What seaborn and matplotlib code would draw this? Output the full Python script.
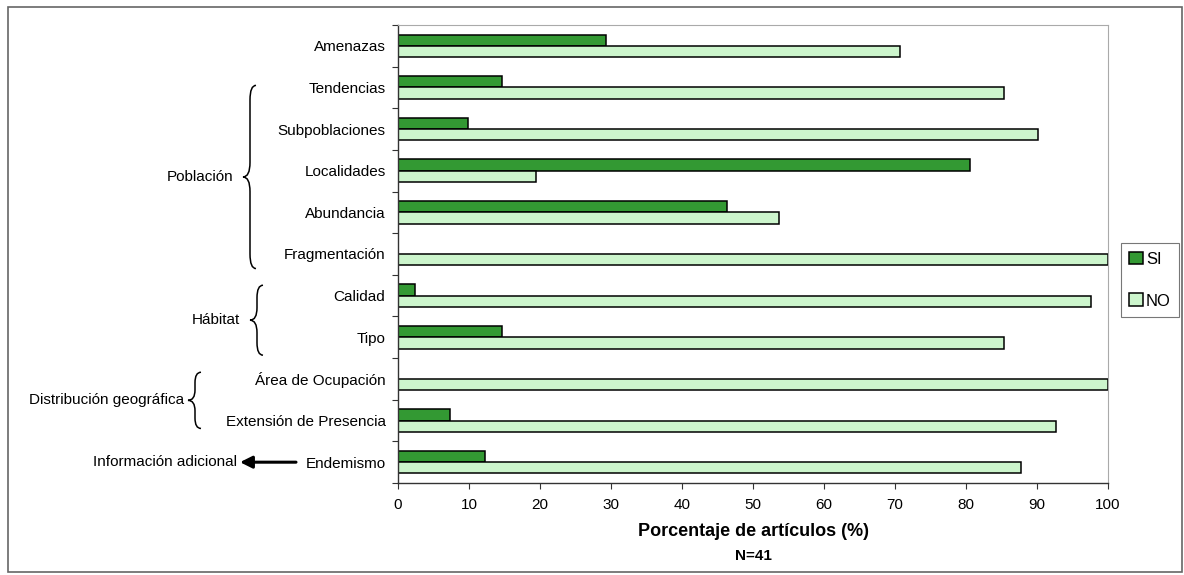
import numpy as np
import pandas as pd
import matplotlib
matplotlib.use("Agg")
import matplotlib.pyplot as plt
from matplotlib.path import Path
from matplotlib.patches import PathPatch, Rectangle
from matplotlib.transforms import blended_transform_factory
import seaborn as sns

# Criteria reviewed in the articles (top to bottom)
categorias = ["Amenazas", "Tendencias", "Subpoblaciones", "Localidades",
              "Abundancia", "Fragmentación", "Calidad", "Tipo",
              "Área de Ocupación", "Extensión de Presencia", "Endemismo"]
# Percent of articles (N=41) that report / do not report each criterion
si = [29.3, 14.6, 9.8, 80.5, 46.3, 0.0, 2.4, 14.6, 0.0, 7.3, 12.2]
no = [70.7, 85.4, 90.2, 19.5, 53.7, 100.0, 97.6, 85.4, 100.0, 92.7, 87.8]
respuestas = ["SI", "NO"]
xticks = list(range(0, 101, 10))

df = pd.DataFrame({
    "categoria": categorias * 2,
    "respuesta": ["SI"] * len(categorias) + ["NO"] * len(categorias),
    "porcentaje": si + no,
})

sns.set_theme(style="white")
plt.rcParams["font.family"] = ["Liberation Sans", "DejaVu Sans"]
for key in ("text.color", "axes.labelcolor", "xtick.color", "ytick.color"):
    plt.rcParams[key] = "black"

fig = plt.figure(figsize=(11.84, 5.75), dpi=100)
ax = fig.add_axes([398 / 1184, 1 - 483 / 575, 710 / 1184, 458 / 575])

sns.barplot(data=df, y="categoria", x="porcentaje", hue="respuesta",
            hue_order=respuestas, order=categorias,
            palette=["#339933", "#CCF5CC"], orient="h", width=0.54,
            edgecolor="black", linewidth=1.1, saturation=1, ax=ax)

ax.set_xlim(0, 100)
ax.set_ylim(len(categorias) - 0.5, -0.5)
ax.set_xticks(xticks)
ax.set_xlabel("")
ax.set_ylabel("")

# Axes styling
for side in ("left", "bottom"):
    ax.spines[side].set_color("#333333")
    ax.spines[side].set_linewidth(1.0)
for side in ("top", "right"):
    ax.spines[side].set_color("#AAAAAA")
    ax.spines[side].set_linewidth(0.8)

ax.tick_params(axis="x", which="major", bottom=True, length=4, width=0.8,
               color="#333333", labelsize=11, pad=7)
ax.tick_params(axis="y", which="major", left=False, length=0,
               labelsize=11, pad=9)
ax.set_yticks(np.arange(-0.5, len(categorias), 1), minor=True)
ax.tick_params(axis="y", which="minor", left=True, length=4, width=0.8,
               color="#333333")

# Legend at the right
handles, labels = ax.get_legend_handles_labels()
ax.get_legend().remove()
leg = fig.legend(handles, labels, loc="center", bbox_to_anchor=(1150 / 1184, 1 - 280 / 575),
                 fontsize=12, frameon=True, fancybox=False, edgecolor="#555555",
                 labelspacing=1.6, handlelength=0.8, handleheight=0.8,
                 handletextpad=0.2, borderpad=0.5, borderaxespad=0)
leg.get_frame().set_linewidth(0.8)

# X-axis title
fig.text(753 / 1184, 1 - 532 / 575, "Porcentaje de artículos (%)", ha="center",
         va="center", fontsize=13, fontweight="bold")
fig.text(753 / 1184, 1 - 556 / 575, "N=41", ha="center", va="center",
         fontsize=11, fontweight="bold")

# Group braces and labels to the left of the category labels
trans = blended_transform_factory(ax.transAxes, ax.transData)
px = 1 / 710  # one pixel in axes-fraction units


def llave(xm, y0, y1, ax_, r=0.25):
    """Left-facing curly brace centred at x=xm (axes fraction) from y0 to y1 (data)."""
    ym = (y0 + y1) / 2
    xr = xm + 6 * px
    xl = xm - 7 * px
    verts = [
        (xr, y0), (xm, y0), (xm, y0 + r),
        (xm, ym - r),
        (xm, ym), (xl, ym),
        (xm, ym), (xm, ym + r),
        (xm, y1 - r),
        (xm, y1), (xr, y1),
    ]
    codes = [Path.MOVETO, Path.CURVE3, Path.CURVE3,
             Path.LINETO,
             Path.CURVE3, Path.CURVE3,
             Path.CURVE3, Path.CURVE3,
             Path.LINETO,
             Path.CURVE3, Path.CURVE3]
    ax_.add_patch(PathPatch(Path(verts, codes), facecolor="none",
                            edgecolor="black", lw=1.1, transform=trans,
                            clip_on=False))


llave((250 - 398) * px, 0.95, 5.35, ax, r=0.35)
llave((257 - 398) * px, 5.75, 7.43, ax, r=0.3)
llave((195 - 398) * px, 7.84, 9.19, ax, r=0.25)

ax.text((233 - 398) * px, 3.15, "Población", transform=trans, ha="right",
        va="center", fontsize=11)
ax.text((240 - 398) * px, 6.59, "Hábitat", transform=trans, ha="right",
        va="center", fontsize=11)
ax.text((184 - 398) * px, 8.5, "Distribución geográfica", transform=trans,
        ha="right", va="center", fontsize=11)
ax.text((237 - 398) * px, 10, "Información adicional", transform=trans,
        ha="right", va="center", fontsize=11)
ax.annotate("", xy=((240 - 398) * px, 10), xycoords=trans,
            xytext=((296 - 398) * px, 10), textcoords=trans,
            arrowprops=dict(arrowstyle="-|>,head_length=0.6,head_width=0.3",
                            lw=2.2, color="black", shrinkA=0, shrinkB=0),
            annotation_clip=False)

# Outer frame of the figure
fig.patches.append(Rectangle((8 / 1184, 3 / 575), 1174 / 1184, 565 / 575,
                             transform=fig.transFigure, fill=False,
                             edgecolor="#666666", lw=1.2))

fig.savefig("out.png", dpi=100)
